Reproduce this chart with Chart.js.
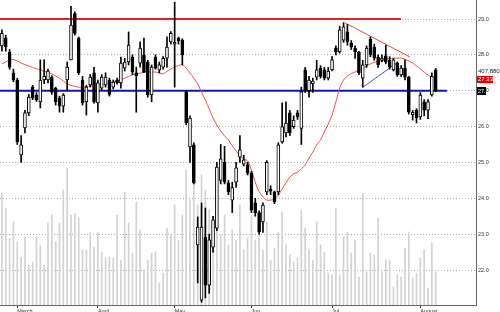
<!DOCTYPE html>
<html>
<head>
<meta charset="utf-8">
<script src="https://cdn.jsdelivr.net/npm/chart.js@4.4.1/dist/chart.umd.min.js"></script>
<style>
  html, body { margin: 0; padding: 0; background: #fff; }
  #wrap { width: 500px; height: 312px; }
</style>
</head>
<body>
<div id="wrap"><canvas id="chart" width="500" height="312"></canvas></div>
<script>
// daily bars (late Feb .. early Aug)
var opens = [28.25,28.47,28.08,27.50,27.30,25.21,25.96,26.38,27.10,26.88,
  26.69,27.30,27.30,27.38,27.07,26.80,26.57,27.30,27.86,29.15,
  28.47,27.30,26.69,27.16,27.50,26.66,27.07,27.16,27.30,27.10,
  27.30,27.22,27.63,27.80,27.94,27.50,27.77,28.00,27.80,26.88,
  27.94,27.58,27.66,27.91,28.36,28.30,28.47,28.41,26.97,25.43,
  25.49,22.70,21.16,22.92,21.58,22.64,23.17,24.50,25.00,24.43,
  23.95,24.45,25.15,24.95,24.93,24.70,23.87,23.60,23.34,24.18,
  24.25,24.18,24.18,25.57,25.82,26.38,26.00,26.38,25.95,27.58,
  27.00,27.20,27.38,27.63,27.58,27.35,27.58,28.19,28.08,28.41,
  28.64,28.33,28.19,28.08,27.35,27.72,28.44,28.22,27.94,27.85,
  27.97,27.85,27.58,27.77,27.44,27.63,27.38,26.33,26.46,26.27,
  26.69,26.46,26.88,27.58];
var highs = [28.70,28.55,28.15,27.60,27.35,25.75,26.45,26.90,27.15,26.95,
  27.86,27.86,27.60,27.42,27.10,26.85,26.92,27.80,29.35,29.20,
  28.50,27.40,27.15,27.45,27.65,27.30,27.45,27.50,27.35,27.30,
  27.35,27.94,27.90,28.64,28.00,27.66,28.36,28.47,27.85,27.72,
  28.00,27.80,27.95,28.50,28.65,29.47,28.50,28.45,27.00,26.30,
  25.55,23.48,23.87,23.73,23.00,23.50,25.00,25.50,25.45,24.50,
  24.45,25.00,25.75,25.20,25.00,24.75,24.00,23.65,23.87,25.05,
  24.35,24.20,25.55,26.66,26.69,26.45,26.30,26.45,27.10,27.65,
  27.40,27.35,27.85,27.70,27.65,27.65,27.95,28.25,28.80,28.90,
  28.85,28.40,28.25,28.10,27.85,28.25,28.50,28.30,28.00,28.00,
  28.27,27.95,27.90,27.80,27.70,27.86,27.40,26.45,26.50,26.95,
  26.75,26.75,27.50,27.62];
var lows = [28.10,28.10,27.60,27.25,25.50,25.00,25.82,26.30,26.75,26.70,
  26.52,27.20,27.22,26.90,26.60,26.40,26.40,27.00,27.86,28.55,
  27.45,26.60,26.32,27.10,26.65,26.40,27.00,27.10,26.85,27.05,
  27.18,27.07,27.55,27.72,27.45,26.40,27.66,27.50,26.82,26.69,
  27.60,27.50,27.60,27.66,28.30,27.10,28.30,27.72,26.05,25.00,
  24.40,21.64,21.10,21.22,21.35,22.50,23.10,24.40,24.40,24.10,
  23.60,24.30,25.00,24.90,24.65,23.60,23.50,23.00,23.05,24.10,
  24.10,23.85,24.10,25.54,25.71,25.75,25.95,26.20,25.50,26.95,
  26.82,26.95,27.30,27.35,27.30,27.30,27.55,28.00,28.05,28.35,
  28.27,28.15,27.90,27.45,27.10,27.65,27.95,27.85,27.65,27.80,
  27.75,27.60,27.55,27.40,27.40,27.30,26.35,26.18,26.10,26.20,
  26.30,26.22,26.85,26.97];
var closes = [28.60,28.22,27.66,27.30,25.57,25.49,26.38,26.82,26.80,26.75,
  27.30,27.40,27.55,26.96,26.69,26.57,26.88,27.66,28.83,28.60,
  27.50,26.66,27.10,27.38,26.69,27.22,27.38,27.38,26.90,27.24,
  27.22,27.77,27.80,28.27,27.52,27.42,28.19,27.52,26.88,27.66,
  27.63,27.72,27.90,28.22,28.60,28.35,28.39,28.00,26.10,26.24,
  24.43,23.20,23.20,21.58,22.84,23.40,24.87,25.10,24.45,24.18,
  24.30,24.85,25.35,25.07,24.70,23.67,23.60,23.06,23.81,25.00,
  24.20,23.90,25.49,26.00,26.10,25.82,26.18,26.27,26.97,27.00,
  27.30,27.27,27.58,27.40,27.35,27.55,27.86,28.08,28.70,28.78,
  28.36,28.22,28.08,27.50,27.72,28.19,28.00,27.91,27.72,27.91,
  27.80,27.66,27.86,27.44,27.63,27.38,26.40,26.40,26.24,26.88,
  26.46,26.69,27.40,27.00];
var volumes = [1384000,1199000,828000,1026000,779000,593000,840000,494000,531000,840000,
  742000,494000,1014000,1112000,779000,1014000,1421000,1693000,1112000,1137000,
  1075000,680000,680000,902000,717000,902000,655000,581000,593000,581000,
  1112000,556000,1397000,1014000,643000,1273000,927000,433000,556000,643000,
  655000,272000,396000,952000,865000,1236000,803000,1112000,1669000,1298000,
  1545000,1236000,1607000,1421000,1174000,989000,1298000,865000,1112000,742000,
  927000,803000,1236000,680000,828000,1112000,803000,952000,680000,1026000,
  556000,705000,902000,1149000,742000,618000,531000,581000,1174000,952000,
  680000,556000,1026000,742000,655000,396000,371000,1199000,371000,840000,
  902000,643000,803000,346000,1384000,408000,643000,618000,1075000,408000,
  556000,556000,222000,371000,346000,705000,902000,334000,396000,581000,
  680000,210000,766000,407880];
// red moving average, traced
var movingAvg = [27.75,27.80,27.87,27.87,27.83,27.77,27.73,27.69,27.65,27.61,
  27.58,27.54,27.51,27.47,27.41,27.35,27.27,27.19,27.15,27.12,
  27.10,27.10,27.12,27.13,27.13,27.16,27.17,27.20,27.22,27.24,
  27.28,27.31,27.35,27.40,27.44,27.47,27.49,27.52,27.52,27.52,
  27.52,27.49,27.47,27.54,27.61,27.66,27.70,27.72,27.63,27.49,
  27.35,27.19,26.96,26.74,26.49,26.24,26.04,25.88,25.74,25.63,
  25.46,25.32,25.18,25.10,25.04,24.79,24.45,24.18,24.04,23.95,
  23.95,23.98,24.09,24.26,24.43,24.59,24.68,24.73,24.82,24.93,
  25.12,25.29,25.49,25.63,25.85,26.07,26.32,26.69,27.08,27.30,
  27.41,27.48,27.52,27.58,27.63,27.69,27.75,27.79,27.81,27.84,
  27.87,27.90,27.91,27.91,27.91,27.88,27.83,27.77,27.69,27.61,
  27.52,27.44,27.38,27.33];

var monthLabels = ["March", "April", "May", "Jun", "Jul", "August"];
var monthStarts = [4, 25, 45, 65, 86, 109];
var priceTicks = [22, 23, 24, 25, 26, 27, 28, 29];

// drawn lines, as [bar index, price]
var resistance = [[-0.5, 29.0], [103.95, 29.0]];
var support = [[-0.5, 27.0], [115.9, 27.0]];
var topTrend = [[89.4, 28.89], [106.3, 27.94]];
var bottomTrend = [[94.1, 27.1], [103.2, 27.8]];

var slots = 124; // bar slots across the plot, incl. empty right margin

Chart.defaults.font.family = "'Liberation Sans', Arial, sans-serif";

function span(a, b) {
    return a.map(function (v, i) { return { x: i, y: [v, b[i]] }; });
}
function pts(list) {
    return list.map(function (p) { return { x: p[0], y: p[1] }; });
}
function flatLine(color, width, data, order) {
    return {
        type: "line", data: pts(data), borderColor: color, borderWidth: width,
        pointRadius: 0, fill: false, order: order
    };
}

var bodyColors = closes.map(function (c, i) { return c >= opens[i] ? "#fff" : "#000"; });

// right-side value boxes
var sideLabels = {
    id: "sideLabels",
    afterDraw: function (chart) {
        var ctx = chart.ctx, y = chart.scales.y, x0 = chart.chartArea.right;
        var lastMa = movingAvg[movingAvg.length - 1];
        var lastClose = closes[closes.length - 1];
        var yMa = Math.round(y.getPixelForValue(lastMa));
        var yClose = Math.round(y.getPixelForValue(lastClose));
        ctx.save();
        ctx.font = "6px 'Liberation Sans', Arial, sans-serif";
        ctx.textBaseline = "middle";
        ctx.fillStyle = "#222";
        ctx.fillText(volumes[volumes.length - 1].toLocaleString("en-US"), x0 + 2, yMa - 8);
        ctx.fillStyle = "#e00000";
        ctx.fillRect(x0 + 1, yMa - 3, 16, 7);
        ctx.fillStyle = "#fff";
        ctx.fillText(lastMa.toFixed(2), x0 + 2, yMa + 0.5);
        ctx.fillStyle = "#000";
        ctx.fillRect(x0 + 1, yClose - 4, 9, 8);
        ctx.font = "5.5px 'Liberation Sans', Arial, sans-serif";
        ctx.fillStyle = "#fff";
        ctx.fillText("27.", x0 + 2, yClose);
        ctx.restore();
    }
};

new Chart(document.getElementById("chart"), {
    type: "bar",
    data: {
        datasets: [
            {
                data: span(lows, highs), backgroundColor: "#000", borderWidth: 0,
                barThickness: 1, grouped: false, order: 2
            },
            {
                data: span(opens, closes), backgroundColor: bodyColors, borderColor: "#000",
                borderWidth: 1, borderSkipped: false, barThickness: 3, grouped: false, order: 1
            },
            {
                data: volumes.map(function (v, i) { return { x: i, y: v }; }), yAxisID: "vol",
                backgroundColor: "#d2d2d2", borderWidth: 0, barThickness: 1, grouped: false, order: 10
            },
            {
                type: "line", data: movingAvg.map(function (v, i) { return { x: i, y: v }; }),
                borderColor: "#e8504a", borderWidth: 1, pointRadius: 0, tension: 0.3, order: 5
            },
            flatLine("#e02424", 2, resistance, 6),
            flatLine("#1010d0", 2, support, 6),
            flatLine("#e04848", 1, topTrend, 4),
            flatLine("#4646e6", 1, bottomTrend, 4)
        ]
    },
    options: {
        responsive: false,
        animation: false,
        devicePixelRatio: 1,
        layout: { padding: 0 },
        plugins: { legend: { display: false }, tooltip: { enabled: false } },
        scales: {
            x: {
                type: "linear",
                offset: false,
                min: -0.5,
                max: slots - 0.5,
                afterBuildTicks: function (s) {
                    s.ticks = monthStarts.map(function (v) { return { value: v }; });
                },
                afterFit: function (s) {
                    s.height = 7; s.paddingLeft = 0; s.paddingRight = 0;
                },
                ticks: {
                    autoSkip: false, maxRotation: 0, align: "start", padding: 0,
                    color: "#333", font: { size: 5.5 },
                    callback: function (v) { return monthLabels[monthStarts.indexOf(v)]; }
                },
                grid: {
                    drawOnChartArea: false, drawTicks: true, tickLength: 3,
                    tickColor: "#333", offset: false
                },
                border: { color: "#666" }
            },
            y: {
                position: "right",
                min: 21.024,
                max: 29.53,
                afterBuildTicks: function (s) {
                    s.ticks = priceTicks.map(function (v) { return { value: v }; });
                },
                afterFit: function (s) {
                    s.width = 24; s.paddingTop = 0; s.paddingBottom = 0;
                },
                ticks: {
                    padding: 2, color: "#333", font: { size: 5.5 },
                    callback: function (v) { return v.toFixed(1); }
                },
                grid: { color: "#aaa", drawTicks: false },
                border: { color: "#666", dash: [1, 2] }
            },
            vol: {
                display: false,
                min: 0,
                max: 3770000
            }
        }
    },
    plugins: [sideLabels]
});
</script>
</body>
</html>
